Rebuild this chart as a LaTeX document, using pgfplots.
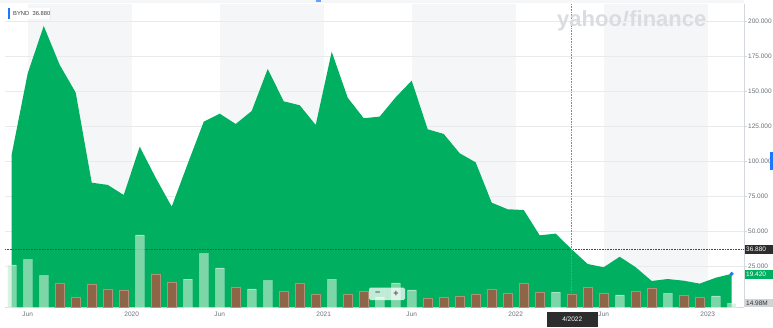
\documentclass[border=0pt]{standalone}
\usepackage{fontspec}
\setmainfont{Liberation Sans}
\usepackage{pgfplots}
\pgfplotsset{compat=1.18}
\definecolor{ygreen}{RGB}{0,176,96}
\definecolor{band}{RGB}{245,246,247}
\definecolor{gridc}{RGB}{232,234,236}
\definecolor{axc}{RGB}{212,216,220}
\definecolor{lab}{RGB}{105,112,118}
\definecolor{upbar}{RGB}{195,237,209}
\definecolor{downbar}{RGB}{142,101,71}
\definecolor{downedge}{RGB}{178,145,118}
\definecolor{ylogo}{RGB}{218,221,224}
\definecolor{yblue}{RGB}{30,120,255}
\definecolor{darkbox}{RGB}{45,45,45}
\definecolor{greybox}{RGB}{208,212,216}
\begin{document}
\begin{tikzpicture}[x=1pt,y=1pt]
\path[use as bounding box] (0,0) rectangle (773,327);
% background bands
\begin{axis}[
  at={(5pt,20pt)}, anchor=south west,
  scale only axis, width=739pt, height=303pt,
  xmin=-0.42, xmax=45.77, ymin=-4.29, ymax=212.1,
  hide axis,
]
\fill[band] (axis cs:1,-4.29) rectangle (axis cs:7.5,212.1);
\fill[band] (axis cs:13,-4.29) rectangle (axis cs:19.5,212.1);
\fill[band] (axis cs:25,-4.29) rectangle (axis cs:31.5,212.1);
\fill[band] (axis cs:37,-4.29) rectangle (axis cs:43.5,212.1);
\end{axis}
\begin{axis}[
  at={(5pt,20pt)}, anchor=south west,
  scale only axis, width=739pt, height=303pt,
  xmin=-0.42, xmax=45.77, ymin=-4.29, ymax=212.1,
  axis background/.style={fill=none},
  axis x line*=bottom, axis y line*=right,
  axis line style={axc, line width=0.6pt, -},
  xtick={1,7.5,13,19.5,25,31.5,37,43.5},
  xticklabels={Jun,2020,Jun,2021,Jun,2022,Jun,2023},
  ytick={25,50,75,100,125,150,175,200},
  yticklabels={25.000,50.000,75.000,100.000,125.000,150.000,175.000,200.000},
  xtick style={draw=none},
  ytick style={axc, line width=0.5pt},
  tick align=outside, major tick length=3pt,
  ymajorgrids, grid style={gridc, line width=0.6pt},
  xticklabel style={font=\fontsize{6.5}{7}\selectfont, text=lab, inner sep=0pt, anchor=north, yshift=-1.5pt},
  yticklabel style={font=\fontsize{6.5}{7}\selectfont, text=lab, inner sep=0pt, anchor=west, xshift=1pt},
]
\addplot[fill=ygreen, draw=none] coordinates {
(0,-4.29) (0,104.8) (1,162.6) (2,196.4) (3,168.6) (4,148.8) (5,84.5) (6,82.9) (7,75.7)
(8,110.2) (9,88) (10,67.4) (11,98) (12,128) (13,133.8) (14,126.4) (15,135.7)
(16,165.7) (17,142.6) (18,139.8) (19,125.7) (20,178) (21,145.2) (22,130.5) (23,131.7)
(24,145.5) (25,157.4) (26,122.6) (27,119.3) (28,105.5) (29,99) (30,70.2) (31,65.5)
(32,65) (33,46.9) (34,48.1) (35,36.88) (36,26.4) (37,24.1) (38,31.6) (39,24.1)
(40,14.3) (41,15.7) (42,14.5) (43,12.4) (44,16.6) (45,19.42) (45,-4.29)} -- cycle;
\addplot[densely dotted, color=black!70, line width=0.6pt] coordinates {(-0.42,36.88) (45.77,36.88)};
\addplot[densely dotted, color=black!45, line width=0.6pt] coordinates {(35,-4.29) (35,212.1)};
\addplot[only marks, mark=*, mark size=1.8pt, color=yblue] coordinates {(45,19.42)};
\end{axis}
\begin{axis}[
  at={(5pt,20pt)}, anchor=south west,
  scale only axis, width=739pt, height=303pt,
  xmin=-0.42, xmax=45.77, ymin=0, ymax=1227,
  hide axis,
]
\addplot[ybar, bar width=8.3pt, bar shift=0pt, fill=downbar, draw=downedge, line width=0.5pt] coordinates {
(3,97) (4,40) (5,93) (6,73) (7,66) (9,131) (10,101) (14,82) (17,63) (18,98) (19,51)
(21,51) (22,62) (26,34) (27,38) (28,43) (29,51) (30,72) (31,55) (32,96) (33,61)
(35,51) (36,80) (37,55) (39,64) (40,76) (42,47) (43,38)};
\addplot[ybar, bar width=8.3pt, bar shift=0pt, fill=upbar, fill opacity=0.64, draw=white, draw opacity=0.35, line width=0.5pt] coordinates {
(0,171) (1,192) (2,127) (8,292) (11,113) (12,216) (13,158) (15,73) (16,107) (20,112)
(23,40) (24,98) (25,69) (34,60) (38,49) (41,55) (44,45) (45,15)};
\end{axis}
\begin{scope}[yshift=327pt, yscale=-1]
\fill[band] (0,0) rectangle (744,3);
\node[anchor=base west, inner sep=0pt, text=ylogo, font=\fontsize{22}{22}\selectfont\bfseries] at (557,26.7) {yahoo\textit{!}finance};
% right-side value boxes
\fill[darkbox] (744.5,245) rectangle (773,254);
\node[anchor=west, inner sep=0pt, text=white, font=\fontsize{6.5}{7}\selectfont] at (746,249.6) {36.880};
\fill[ygreen] (744.5,270) rectangle (773,278.5);
\node[anchor=west, inner sep=0pt, text=white, font=\fontsize{6.5}{7}\selectfont] at (746,274.3) {19.420};
\fill[greybox] (744.5,299) rectangle (773,307);
\node[anchor=west, inner sep=0pt, text=black!80, font=\fontsize{6.5}{7}\selectfont] at (746,303.1) {14.98M};
% bottom date box
\fill[darkbox] (546.7,311.7) rectangle (597.7,327);
\node[inner sep=0pt, text=white, font=\fontsize{6.5}{7}\selectfont] at (572.2,319.5) {4/2022};
% legend
\fill[black!8] (8.8,8.5) rectangle (50.5,19.2);
\fill[white] (8.3,8) rectangle (50,18.7);
\fill[yblue] (8.3,8) rectangle (10,18.7);
\node[anchor=west, inner sep=0pt, text=black!75, font=\fontsize{5.8}{6}\selectfont] at (13,13.4) {BYND\ \ 36.880};
% zoom widget
\fill[white, opacity=0.75, rounded corners=1.5pt] (369,287.7) rectangle (405,300);
\draw[black!15, line width=0.4pt] (386.7,288.5) -- (386.7,299.2);
\node[inner sep=0pt, text=black!65, font=\fontsize{9}{9}\selectfont\bfseries] at (377.7,293.8) {−};
\node[inner sep=0pt, text=black!65, font=\fontsize{9}{9}\selectfont\bfseries] at (396,293.8) {+};
% UI markers
\fill[yblue] (770,152.5) rectangle (773,170);
\fill[yblue!70] (316,0) rectangle (321,2);
\end{scope}
\end{tikzpicture}
\end{document}
